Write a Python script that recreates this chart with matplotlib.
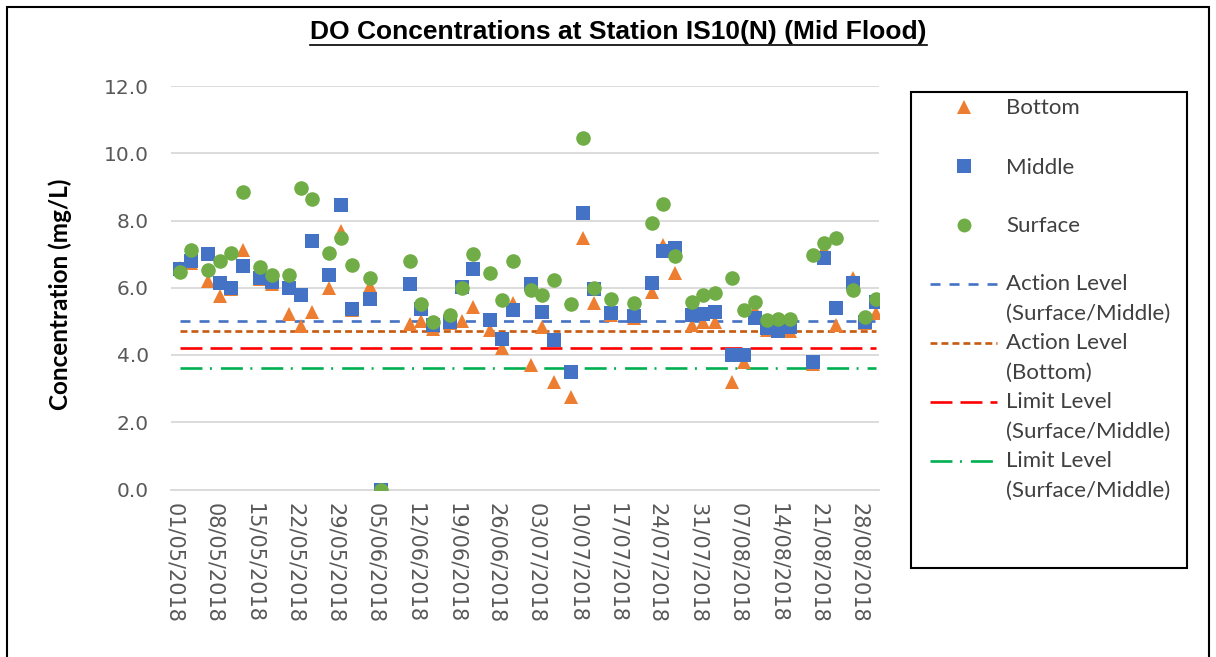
import datetime as dt
import matplotlib.pyplot as plt
import matplotlib.dates as mdates
from matplotlib.lines import Line2D
from matplotlib.patches import Rectangle

# sampling dates and DO readings (mg/L)
dates = ["2018-05-02", "2018-05-04", "2018-05-07", "2018-05-09", "2018-05-11", "2018-05-13",
         "2018-05-16", "2018-05-18", "2018-05-21", "2018-05-23", "2018-05-25", "2018-05-28",
         "2018-05-30", "2018-06-01", "2018-06-04", "2018-06-06", "2018-06-11", "2018-06-13",
         "2018-06-15", "2018-06-18", "2018-06-20", "2018-06-22", "2018-06-25", "2018-06-27",
         "2018-06-29", "2018-07-02", "2018-07-04", "2018-07-06", "2018-07-09", "2018-07-11",
         "2018-07-13", "2018-07-16", "2018-07-20", "2018-07-23", "2018-07-25", "2018-07-27",
         "2018-07-30", "2018-08-01", "2018-08-03", "2018-08-06", "2018-08-08", "2018-08-10",
         "2018-08-12", "2018-08-14", "2018-08-16", "2018-08-20", "2018-08-22", "2018-08-24",
         "2018-08-27", "2018-08-29", "2018-08-31"]
bottom = [6.60, 6.75, 6.21, 5.76, 5.95, 7.12, 6.25, 6.12, 5.22, 4.87, 5.29, 5.98, 7.70, 5.35,
          6.05, 0.0, 4.92, 5.00, 4.78, 4.95, 5.02, 5.44, 4.74, 4.20, 5.55, 3.70, 4.84, 3.20,
          2.76, 7.48, 5.54, 5.20, 5.10, 5.88, 7.27, 6.43, 4.89, 4.97, 4.97, 3.20, 3.78, 5.34,
          4.75, 4.70, 4.72, 3.72, 7.15, 4.89, 6.30, 4.95, 5.24]
middle = [6.55, 6.79, 7.00, 6.13, 6.00, 6.65, 6.29, 6.17, 6.00, 5.78, 7.39, 6.39, 8.45, 5.38,
          5.68, 0.0, 6.10, 5.38, 4.89, 4.99, 6.03, 6.55, 5.04, 4.47, 5.34, 6.11, 5.29, 4.44,
          3.50, 8.23, 5.95, 5.24, 5.17, 6.13, 7.08, 7.18, 5.19, 5.22, 5.27, 4.00, 4.00, 5.09,
          4.79, 4.71, 4.84, 3.80, 6.88, 5.39, 6.13, 4.99, 5.58]
surface = [6.48, 7.13, 6.54, 6.79, 7.04, 8.84, 6.63, 6.38, 6.38, 8.98, 8.64, 7.04, 7.49, 6.68,
           6.28, 0.0, 6.79, 5.53, 4.99, 5.19, 5.98, 6.99, 6.43, 5.63, 6.79, 5.93, 5.78, 6.23,
           5.53, 10.44, 5.98, 5.67, 5.54, 7.94, 8.48, 6.93, 5.58, 5.78, 5.83, 6.28, 5.34, 5.58,
           5.04, 5.08, 5.08, 6.98, 7.33, 7.49, 5.93, 5.14, 5.68]

action_sm = 5.0
action_b = 4.7
limit_sm = 4.2
limit_b = 3.6

x = [mdates.date2num(dt.datetime.strptime(s, "%Y-%m-%d")) + 0.5 for s in dates]
start = mdates.date2num(dt.datetime(2018, 5, 1))
end = mdates.date2num(dt.datetime(2018, 9, 1))

plt.rcParams['lines.scale_dashes'] = False

W, H = 1216, 657
fig = plt.figure(figsize=(W / 100, H / 100), dpi=100)
ax = fig.add_axes([171 / W, 1 - 489.5 / H, (879 - 171) / W, (489.5 - 86) / H])

grey = '#D9D9D9'
ax.set_xlim(start, end)
ax.set_ylim(0, 12)
ax.set_yticks([0, 2, 4, 6, 8, 10, 12])
ax.yaxis.grid(True, color=grey, lw=1.3, zorder=0)
ax.set_axisbelow(True)
for s in ['top', 'right', 'left']:
    ax.spines[s].set_visible(False)
ax.spines['bottom'].set_color(grey)
ax.spines['bottom'].set_linewidth(1.3)

ticks = [start + 0.5 + 7 * k for k in range(18)]
ax.set_xticks(ticks)
ax.set_xticklabels([mdates.num2date(t).strftime("%d/%m/%Y") for t in ticks],
                   rotation=-90, fontsize=15, color='#595959')
ax.set_yticklabels(["%.1f" % v for v in ax.get_yticks()], fontsize=14.5, color='#595959')
ax.tick_params(axis='x', length=0, pad=10)
ax.tick_params(axis='y', length=0, pad=16)
for lab in ax.get_xticklabels():
    lab.set_va('top')
    lab.set_ha('center')

# reference lines
styles = [
    (action_sm, '#4472C4', (0, (7.2, 6.5)), "Action Level\n(Surface/Middle)"),
    (action_b, '#C55A11', (0, (5.0, 2.9)), "Action Level\n(Bottom)"),
    (limit_sm, '#FF0000', (0, (15.8, 5.8)), "Limit Level\n(Surface/Middle)"),
    (limit_b, '#00B050', (0, (15.8, 5.4, 1.4, 6.5)), "Limit Level\n(Surface/Middle)"),
]
for val, col, ls, lab in styles:
    ax.plot(x, [val] * len(x), color=col, lw=1.9, linestyle=ls, zorder=2)

ax.plot(x, bottom, '^', color='#ED7D31', ms=10.5, mew=0, zorder=3)
ax.plot(x, middle, 's', color='#4472C4', ms=10, mew=0, zorder=4)
ax.plot(x, surface, 'o', color='#70AD47', ms=10.5, mew=0, zorder=5)

# title with underline
title = fig.text(618.5 / W, 1 - 32 / H, "DO Concentrations at Station IS10(N) (Mid Flood)",
                 ha='center', va='center', fontsize=19, fontweight='bold',
                 family='Liberation Sans')
fig.text(60 / W, 1 - 294 / H, "Concentration (mg/L)", rotation=90, ha='center', va='center',
         fontsize=17.5, fontweight='bold', family='Lato')

# legend drawn as a box
fig.add_artist(Rectangle((911 / W, 1 - 568 / H), (1187 - 911) / W, (568 - 92) / H,
                         transform=fig.transFigure, fill=False, ec='black', lw=1.5))
rows = [107, 166, 225, 284, 343, 402, 461]
markers = [('^', '#ED7D31', "Bottom"), ('s', '#4472C4', "Middle"), ('o', '#70AD47', "Surface")]
for (m, c, lab), ry in zip(markers, rows[:3]):
    fig.add_artist(Line2D([964 / W], [1 - ry / H], marker=m, color=c, ms=10, mew=0,
                          linestyle='none', transform=fig.transFigure))
    fig.text(1006 / W, 1 - (ry + 1.5) / H, lab, ha='left', va='center', fontsize=16,
             color='#404040', family='Lato')
for (val, col, ls, lab), ry in zip(styles, rows[3:]):
    fig.add_artist(Line2D([930 / W, 997 / W], [1 - ry / H] * 2, color=col, lw=1.9,
                          linestyle=ls, transform=fig.transFigure))
    fig.text(1006 / W, 1 - (ry - 10) / H, lab, ha='left', va='top', fontsize=16,
             color='#404040', family='Lato', linespacing=1.6)

# outer frame
fig.add_artist(Rectangle((7 / W, -0.05), (1209 - 7) / W, 1.05 - 7 / H,
                         transform=fig.transFigure, fill=False, ec='black', lw=1.5))

fig.canvas.draw()
bb = title.get_window_extent()
fig.add_artist(Line2D([bb.x0 / W, bb.x1 / W], [(bb.y0 - 1) / H] * 2, color='black', lw=1.2,
                      transform=fig.transFigure))

fig.savefig("out.png", dpi=100)
